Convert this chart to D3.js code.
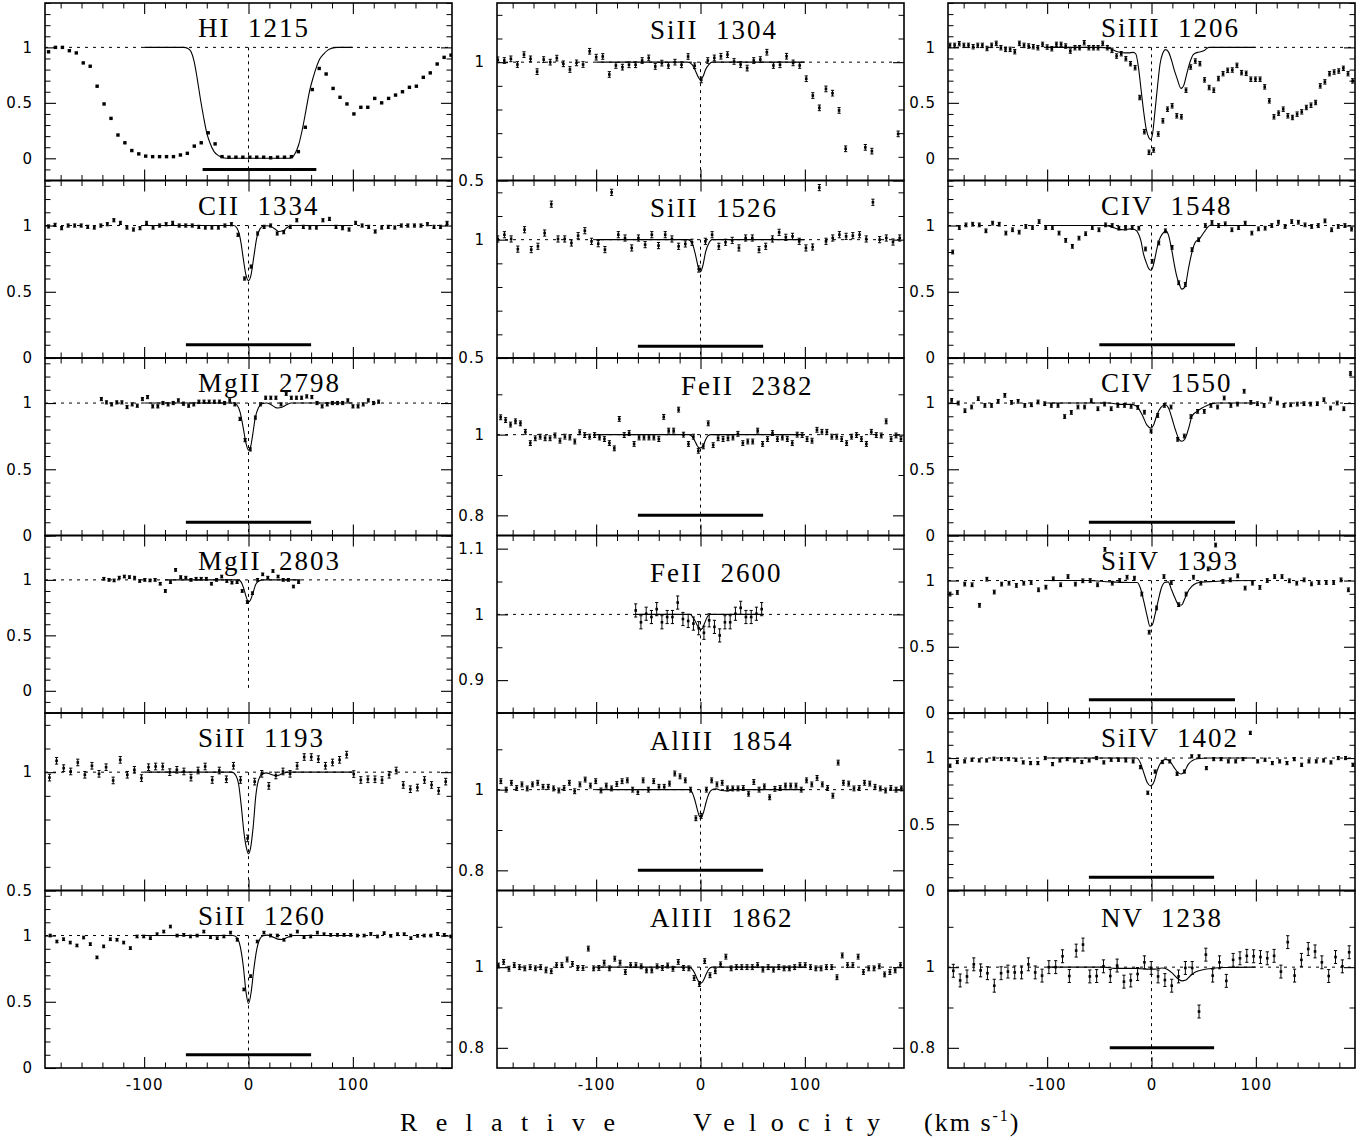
<!DOCTYPE html>
<html>
<head>
<meta charset="utf-8">
<script src="https://cdn.jsdelivr.net/npm/d3@7"></script>
<style>
  body { margin: 0; background: #fff; }
</style>
</head>
<body>
<script>
// panel order: left column top->bottom, then middle, then right
const titles = ["HI  1215", "CII  1334", "MgII  2798", "MgII  2803", "SiII  1193", "SiII  1260",
                "SiII  1304", "SiII  1526", "FeII  2382", "FeII  2600", "AlIII  1854", "AlIII  1862",
                "SiIII  1206", "CIV  1548", "CIV  1550", "SiIV  1393", "SiIV  1402", "NV  1238"];

const yDomains = [[-0.2, 1.4], [0, 1.34], [0, 1.34], [-0.2, 1.4], [0.5, 1.25], [0, 1.34],
                  [0.5, 1.25], [0.5, 1.25], [0.75, 1.19], [0.85, 1.12], [0.75, 1.19], [0.75, 1.19],
                  [-0.2, 1.4], [0, 1.34], [0, 1.34], [0, 1.34], [0, 1.34], [0.75, 1.19]];
const yMajor = [0.5, 0.5, 0.5, 0.5, 0.5, 0.5, 0.5, 0.5, 0.2, 0.1, 0.2, 0.2, 0.5, 0.5, 0.5, 0.5, 0.5, 0.2];
const yMinor = [0.1, 0.1, 0.1, 0.1, 0.1, 0.1, 0.1, 0.1, 0.1, 0.05, 0.1, 0.1, 0.1, 0.1, 0.1, 0.1, 0.1, 0.1];

// pixel grid of each spectrum (first velocity, step in km/s)
const velStart = [-191.6, -191.6, -141, -138.6, -190.7, -190, -194.3, -194.3, -191.5, -62.1, -191.3, -193.7,
                  -193.1, -190.5, -191.5, -193.1, -193.1, -189.9];
const velStep = [6.65, 6.26, 4.92, 4.91, 6.78, 6.4, 6.29, 6.42, 4.736, 5.03, 5.05, 5.07,
                 4.435, 6.37, 6.37, 7.07, 7.02, 6.54];
const errs = [0, 0.012, 0.012, 0.012, 0.014, 0.01, 0.012, 0.013, 0.006, 0.01, 0.006, 0.006,
              0.02, 0.014, 0.014, 0.014, 0.012, 0.016];

// integration ranges [vmin, vmax, level]
const bars = [[-44, 65, -0.1], [-60, 60, 0.1], [-60, 60, 0.1], null, null, [-60, 60, 0.1],
              null, [-60, 60, 0.55], [-60, 60, 0.8], null, [-60, 60, 0.8], null,
              null, [-50, 80, 0.1], [-60, 80, 0.1], [-60, 80, 0.1], [-60, 60, 0.1], [-40, 60, 0.8]];

// normalised flux
const flux_HI1215 = [0.96,1.0,1.0,0.97,0.95,0.86,0.83,0.65,0.49,0.36, 0.21,0.14,0.07,0.04,0.02,0.015,0.015,0.015,0.015,0.03,
  0.045,0.11,0.14,0.23,0.13,0.015,0.01,0.01,0.01,0.01, 0.01,0.01,0.005,0.01,0.01,0.015,0.06,0.28,0.62,0.81,
  0.76,0.63,0.55,0.49,0.40,0.46,0.46,0.54,0.50,0.54, 0.57,0.60,0.64,0.65,0.73,0.77,0.85,0.91,0.93];
const flux_CII1334 = [0.993,1.005,0.98,1.0,1.0,1.0,0.99,0.985,1.0,1.01, 1.04,1.02,0.985,0.97,0.98,1.02,0.985,1.0,1.01,1.02,
  1.0,1.0,1.0,0.99,0.985,0.985,0.985,1.0,1.01,0.93, 0.60,0.69,0.94,0.99,1.0,0.94,0.95,0.99,1.04,0.99,
  0.985,0.985,1.04,1.05,0.99,0.98,0.97,1.02,1.0,0.99, 0.955,0.985,0.99,0.985,1.0,1.0,1.0,1.0,1.01,0.99, 0.99,1.02];
const flux_MgII2798 = [1.03,1.005,0.99,1.005,1.005,0.97,0.99,0.98,1.03,1.045, 0.975,0.975,1.0,0.99,1.0,1.02,0.995,0.98,0.99,1.01,
  1.01,1.01,1.01,1.01,1.0,1.02,0.99,0.88,0.72,0.65, 0.89,0.99,1.04,1.04,1.04,0.99,1.07,1.04,1.04,1.04,
  1.05,1.045,1.0,0.975,0.99,1.0,1.0,1.0,1.02,0.975, 0.975,0.99,1.02,1.0,1.01];
const flux_MgII2803 = [1.01,1.0,0.995,1.02,1.03,1.025,1.02,0.99,1.0,0.995, 1.0,0.965,0.9,0.98,1.09,1.025,1.02,1.0,1.01,1.01,
  1.01,0.965,1.0,1.03,0.99,0.975,0.98,0.9,0.8,0.88, 1.0,1.05,1.02,1.08,1.03,1.0,1.0,0.94,0.98];
const flux_SiII1193 = [0.977,1.048,1.017,1.003,1.041,0.989,1.027,0.993,1.021,0.965, 1.052,0.989,1.01,0.975,1.021,1.024,1.024,1.0,1.01,1.003,
  0.977,1.007,1.024,0.967,1.007,0.97,1.027,0.967,0.72,0.96, 0.993,0.942,0.986,1.003,0.993,1.027,1.064,1.064,1.055,1.027,
  1.041,1.052,1.074,0.992,0.967,0.97,0.97,0.967,0.989,1.007, 0.946,0.928,0.935,0.967,0.946,0.921,0.96];
const flux_SiII1260 = [1.0,0.955,0.972,0.947,0.925,0.985,0.935,0.835,0.918,0.972, 0.968,0.947,0.905,0.993,0.993,0.98,1.01,1.03,1.068,1.0,
  1.005,0.993,1.0,1.03,0.988,0.98,0.993,1.022,0.968,0.593, 0.693,0.955,1.022,1.0,1.0,0.968,1.0,1.03,0.988,0.993,
  1.022,1.01,1.005,1.005,1.005,1.005,1.0,1.0,1.012,0.993, 1.018,0.998,1.01,1.01,0.98,0.998,1.0,1.0,1.012,1.005, 0.993];
const flux_SiII1304 = [1.01,1.007,1.014,0.99,1.032,1.014,0.96,1.011,1.0,1.017, 0.993,0.969,0.997,0.99,1.046,1.021,1.024,0.948,0.986,0.979,
  0.989,0.989,1.007,1.018,0.982,0.996,0.986,1.0,0.989,1.024, 0.985,0.925,1.007,1.018,1.025,1.032,1.003,0.99,0.975,1.007,
  1.011,1.042,0.986,0.989,1.025,0.997,0.986,0.93,0.859,0.807, 0.887,0.869,0.796,0.634,null,null,0.64,0.624,null,null, null,0.697];
const flux_SiII1526 = [1.003,1.021,1.003,0.96,1.042,0.958,0.972,1.028,1.15,1.003, 1.003,0.986,1.017,1.038,0.993,0.983,0.958,1.2,1.021,1.007,
  0.965,1.007,0.979,1.021,0.975,1.021,1.003,0.972,0.982,0.989, 0.876,0.993,1.021,0.972,0.989,0.997,0.965,1.007,1.007,0.958,
  0.972,1.003,1.031,1.01,1.014,0.993,0.965,0.969,1.22,0.993, 1.007,1.021,1.014,1.017,1.021,1.003,1.158,1.0,1.007,0.99, 1.007];
const flux_FeII2382 = [1.043,1.036,1.025,1.033,1.028,1.007,0.979,0.991,0.995,0.991, 0.991,0.998,0.985,0.995,0.993,0.983,1.006,0.999,0.995,0.999,
  0.993,0.989,0.979,0.966,1.039,0.999,1.004,0.977,0.993,0.993, 0.993,0.993,0.989,1.044,1.01,1.01,1.062,1.0,0.977,0.995,
  0.96,0.971,1.028,0.974,0.991,0.989,0.991,0.993,1.002,0.979, 0.983,0.983,1.01,0.977,0.989,1.004,0.989,0.993,0.989,0.979,
  1.0,0.999,0.989,0.985,1.012,1.007,1.007,0.995,0.995,0.989, 0.979,0.995,0.999,0.989,0.977,1.007,0.999,0.998,1.033,0.989, 0.998,0.989];
const flux_FeII2600 = [1.006,0.988,1.001,0.996,1.008,0.988,0.996,0.996,1.018,0.993, 0.99,0.986,0.979,0.972,0.991,0.981,0.968,0.988,0.988,1.001,
  1.01,0.996,0.996,1.001,1.008];
const flux_AlIII1854 = [1.021,1.0,1.017,1.004,1.013,1.003,1.013,1.017,1.007,1.007, 1.003,0.998,1.004,1.017,0.996,1.013,1.025,1.01,1.021,0.998,
  1.01,1.003,1.014,1.021,1.023,1.0,0.994,1.023,1.0,1.021, 1.007,1.007,1.015,1.04,1.033,1.023,1.0,0.929,0.935,1.0,
  1.023,1.013,1.017,1.003,1.003,1.003,1.004,0.99,1.019,1.0, 1.008,0.981,1.002,1.004,1.01,1.01,1.01,1.0,1.023,1.013,
  1.029,1.013,1.004,0.985,1.067,1.017,1.015,1.003,1.004,1.017, 1.015,1.007,1.003,0.998,1.004,1.0,1.003];
const flux_AlIII1862 = [1.004,1.013,0.996,1.005,1.0,0.997,1.0,0.997,1.0,0.992, 0.99,1.005,1.005,1.019,1.008,0.998,0.998,1.046,0.997,0.998,
  1.011,0.997,1.021,1.011,0.988,1.005,1.005,1.002,0.992,0.992, 1.002,0.998,1.004,0.996,1.013,0.998,0.997,0.973,0.958,1.015,
  0.98,0.99,1.007,1.026,0.997,1.0,1.0,1.0,1.0,1.005, 0.994,1.0,0.994,1.0,0.997,0.997,1.0,1.005,1.005,1.0,
  0.997,0.997,1.0,1.0,0.975,1.029,1.005,1.005,1.026,0.988, 0.997,0.997,1.002,0.982,0.988,0.992,1.005];
const flux_SiIII1206 = [1.018,1.018,1.033,1.018,1.018,1.006,1.018,1.018,0.99,1.018, 1.036,0.997,0.982,0.982,0.961,1.036,1.018,1.012,1.006,0.997,
  1.027,1.003,0.988,1.027,1.027,1.012,0.967,0.997,0.997,1.042, 0.997,0.997,0.997,1.036,0.997,0.973,0.922,0.943,0.898,0.853,
  0.817,0.548,0.24,0.054,0.075,0.219,0.338,0.443,0.473,0.383, 0.374,0.614,0.823,0.877,0.853,0.707,0.638,0.614,0.719,0.763,
  0.793,0.796,0.838,0.772,0.766,0.713,0.713,0.713,0.644,0.518, 0.374,0.407,0.443,0.383,0.368,0.398,0.419,0.458,0.479,0.503,
  0.653,0.689,0.763,0.778,0.787,0.811,0.763,0.698];
const flux_CIV1548 = [0.8,0.985,1.005,1.01,1.005,0.96,1.018,1.01,0.943,0.968, 0.95,0.993,0.985,1.03,0.985,0.985,0.943,0.888,0.843,0.905,
  0.938,0.985,0.968,1.005,1.0,0.98,0.98,0.985,0.98,0.823, 0.73,0.868,0.96,0.835,0.568,0.555,0.818,0.893,1.0,1.023,
  1.0,1.013,0.968,0.985,1.018,0.943,0.975,0.98,1.0,1.025, 0.993,1.03,1.025,1.005,0.993,1.0,1.035,0.968,0.993,1.0, 0.973];
const flux_CIV1550 = [1.02,1.0,0.942,0.97,1.033,0.982,0.982,1.013,1.058,1.005, 1.013,0.982,0.987,1.008,0.995,0.982,0.982,0.898,0.929,0.97,
  0.97,1.018,0.957,0.992,0.957,0.982,0.982,0.975,0.967,0.931, 0.789,0.906,0.982,0.97,0.726,0.751,0.898,0.937,0.937,0.982,
  0.97,1.038,0.982,0.992,1.089,1.005,0.995,0.982,1.03,1.0, 0.982,0.987,0.992,0.995,0.992,0.995,1.025,0.962,1.0,0.957, 1.223];
const flux_SiIV1393 = [0.898,0.91,0.973,0.968,0.813,1.01,0.913,0.973,0.98,0.963, 0.98,0.985,0.93,0.95,1.013,0.968,1.03,0.973,0.998,1.0,
  0.968,1.235,0.98,1.0,1.025,1.018,0.898,0.61,0.793,1.03, 0.985,0.818,0.898,1.025,0.98,1.088,1.268,0.993,1.005,1.035,
  0.943,0.98,0.948,1.0,1.03,1.03,0.998,0.98,1.005,0.975, 0.985,0.985,0.985,1.005,0.93];
const flux_SiIV1402 = [0.942,0.97,0.975,0.987,0.982,0.982,0.995,0.992,0.992,0.987, 0.967,0.962,0.962,1.0,0.954,0.982,0.992,0.982,0.97,0.982,
  1.0,0.967,0.987,0.987,0.982,0.975,0.931,0.738,0.898,0.97, 0.975,0.881,0.898,1.013,1.013,0.924,0.992,0.992,0.975,0.975,
  0.992,1.19,0.975,0.987,0.962,0.975,0.962,0.992,0.949,0.975, 0.975,0.982,0.967,1.0,1.0,0.949];
const flux_NV1238 = [0.991,0.967,0.977,1.007,0.992,0.985,0.954,0.985,0.989,0.987, 0.987,1.007,0.987,0.979,1.0,1.0,1.027,0.978,1.041,1.056,
  0.977,0.978,1.002,0.978,1.004,0.964,0.967,0.983,1.012,0.998, 0.977,0.968,0.954,0.977,0.998,0.998,0.89,1.031,0.979,1.012,
  0.966,1.018,1.022,1.028,1.027,1.025,1.022,1.028,0.989,1.062, 0.979,1.018,1.045,1.039,1.012,0.978,1.025,1.002,1.037];

// fitted profiles [velocity, flux]
const model_HI1215 = [[-100,1],[-62,1],[-58,0.99],[-55,0.96],[-52,0.87],[-49,0.71],[-46,0.53],[-43,0.37],[-40,0.23],[-37,0.14],
  [-33,0.06],[-28,0.02],[-23,0.003],[-20,0],[38,0],[42,0.01],[45,0.05],[48,0.12],[52,0.28],[55,0.43],[58.6,0.61],[62,0.73],
  [65,0.82],[68,0.89],[72,0.94],[76,0.975],[80,0.993],[85,1],[100,1]];
const model_CII1334 = [[-100,1],[-14,1],[-11,0.98],[-9,0.94],[-7,0.86],[-5,0.75],[-2.5,0.63],[0,0.585],[2.5,0.63],[5,0.76],
  [8,0.91],[11,0.975],[14,0.995],[18,0.998],[22,0.99],[26,0.97],[29,0.955],[33,0.96],[37,0.985],[42,1],[100,1]];
const model_MgII2798 = [[-100,1],[-14,1],[-11,0.985],[-8,0.93],[-5,0.81],[-2.5,0.7],[0,0.645],[2,0.67],[4,0.76],[6.5,0.89],
  [9.5,0.965],[13,0.995],[17,1],[21,0.99],[25,0.97],[28,0.962],[32,0.968],[36,0.985],[41,1],[100,1]];
const model_MgII2803 = [[-80,1],[-10,1],[-7,0.98],[-4.5,0.92],[-2,0.84],[0,0.8],[2,0.82],[4.5,0.89],[7,0.96],[10,0.99],[14,1],[50,1]];
const model_SiII1193 = [[-100,1],[-16,1],[-12,0.985],[-9.5,0.95],[-7,0.86],[-4.5,0.75],[-2,0.68],[0,0.655],[2,0.68],[4.5,0.77],
  [7,0.9],[9.5,0.965],[12.5,0.99],[17,0.997],[22,0.99],[27,0.985],[32,0.993],[38,1],[100,1]];
const model_SiII1260 = [[-100,1],[-15,1],[-11,0.985],[-8,0.92],[-5,0.77],[-2.5,0.58],[0,0.485],[2.5,0.57],[5,0.74],[8,0.9],
  [11,0.975],[14,0.998],[18,1.003],[23,0.99],[28,0.973],[32,0.97],[37,0.985],[43,1],[100,1]];
const model_SiII1304 = [[-100,1],[-12,1],[-8,0.99],[-5,0.965],[-2.5,0.94],[0,0.925],[2.5,0.94],[5,0.97],[8,0.99],[11,1],[100,1]];
const model_SiII1526 = [[-100,1],[-12,1],[-8,0.985],[-5,0.94],[-2.5,0.89],[0,0.865],[2.5,0.895],[5,0.95],[8,0.985],[11,1],[100,1]];
const model_FeII2382 = [[-100,1],[-11,1],[-8,0.995],[-5.5,0.985],[-3,0.972],[-1,0.967],[1,0.968],[3,0.975],[5,0.988],[7.5,0.998],[10,1],[100,1]];
const model_FeII2600 = [[-62,1],[-10,1],[-7,0.995],[-4.5,0.988],[-2,0.98],[0,0.977],[2,0.979],[4,0.987],[6.5,0.996],[9,1],[60,1]];
const model_AlIII1854 = [[-100,1],[-11,1],[-8,0.993],[-5.5,0.975],[-3,0.95],[-1,0.934],[1,0.932],[3,0.945],[5.5,0.97],[8,0.99],
  [11,1],[15,1.002],[20,0.998],[26,0.997],[32,1],[100,1]];
const model_AlIII1862 = [[-100,1],[-11,1],[-8,0.995],[-5.5,0.985],[-3,0.97],[-1,0.962],[1,0.961],[3,0.968],[5.5,0.983],[8,0.995],[11,1],[100,1]];
const model_SiIII1206 = [[-100,1],[-50,1],[-40,0.99],[-34,0.965],[-28,0.952],[-22,0.95],[-17.5,0.955],[-15,0.94],[-12.5,0.82],
  [-10,0.62],[-7.5,0.42],[-5,0.26],[-2.5,0.185],[-0.8,0.17],[1,0.22],[3.4,0.43],[6,0.67],[8.2,0.85],[10.5,0.94],[13.6,0.98],
  [16.5,0.955],[19.3,0.88],[22,0.79],[24.5,0.72],[28.3,0.63],[31,0.66],[34,0.77],[37,0.87],[40,0.935],[44,0.955],[48,0.962],
  [51,0.975],[55,1],[100,1]];
const model_CIV1548 = [[-100,1],[-45,1],[-38,0.99],[-32,0.973],[-26,0.968],[-20,0.975],[-16,0.97],[-12.6,0.94],[-10,0.88],[-7.8,0.79],
  [-5,0.72],[-3,0.68],[-0.8,0.662],[1,0.68],[2.4,0.72],[4.5,0.8],[6.5,0.87],[9,0.92],[11.3,0.945],[13.6,0.96],[16.2,0.93],
  [19.3,0.82],[22,0.7],[24.1,0.62],[26.5,0.56],[29,0.52],[32,0.535],[35.3,0.67],[38.5,0.79],[41.7,0.87],[46.5,0.905],
  [51.3,0.96],[56,1],[100,1]];
const model_CIV1550 = [[-100,1],[-40,1],[-30,0.99],[-20,0.99],[-15,0.98],[-12.5,0.96],[-8.3,0.9],[-4.5,0.835],[-0.5,0.812],[2,0.835],
  [5.2,0.91],[9,0.967],[13.2,0.987],[16.4,0.96],[19.6,0.885],[22.8,0.8],[27,0.72],[29.2,0.712],[32.4,0.735],[35.6,0.81],
  [38.8,0.9],[43.6,0.937],[48.4,0.962],[53.2,0.982],[58,0.995],[63,1],[100,1]];
const model_SiIV1393 = [[-100,1],[-60,1],[-40,0.99],[-20,0.985],[-13.7,0.985],[-10.5,0.94],[-7.3,0.84],[-4.1,0.73],[-1.5,0.655],
  [0.7,0.665],[3.3,0.74],[6.2,0.84],[9.3,0.94],[12.5,0.985],[16,0.99],[19.2,0.93],[22.4,0.87],[26.3,0.815],[28.8,0.815],
  [32,0.865],[35.9,0.93],[40.7,0.97],[47,0.987],[60,0.993],[73,0.998],[100,1]];
const model_SiIV1402 = [[-100,1],[-14,1],[-10.5,0.96],[-7.3,0.886],[-4.1,0.815],[-0.8,0.79],[2.4,0.82],[5.6,0.91],[9.4,0.97],
  [13.6,0.99],[17.7,0.975],[21.6,0.93],[25.4,0.89],[28.6,0.88],[31.8,0.9],[35,0.95],[39,0.98],[43.8,0.995],[55,1],[100,1]];
const model_NV1238 = [[-100,1],[-45,1],[-35,0.997],[-15,0.997],[-5,0.995],[3,0.995],[10,0.998],[15,0.995],[20,0.985],[25,0.972],
  [29,0.966],[33,0.968],[37,0.978],[42,0.988],[50,0.994],[58,0.997],[70,0.999],[100,1]];

const fluxes = [flux_HI1215, flux_CII1334, flux_MgII2798, flux_MgII2803, flux_SiII1193, flux_SiII1260,
                flux_SiII1304, flux_SiII1526, flux_FeII2382, flux_FeII2600, flux_AlIII1854, flux_AlIII1862,
                flux_SiIII1206, flux_CIV1548, flux_CIV1550, flux_SiIV1393, flux_SiIV1402, flux_NV1238];
const models = [model_HI1215, model_CII1334, model_MgII2798, model_MgII2803, model_SiII1193, model_SiII1260,
                model_SiII1304, model_SiII1526, model_FeII2382, model_FeII2600, model_AlIII1854, model_AlIII1862,
                model_SiIII1206, model_CIV1548, model_CIV1550, model_SiIV1393, model_SiIV1402, model_NV1238];

const xTicksMajor = [-100, 0, 100];
const xTicksMinor = [-180, -160, -140, -120, -80, -60, -40, -20, 20, 40, 60, 80, 120, 140, 160, 180];

// layout
const width = 1369, height = 1140;
const colLeft = [45, 497, 948];
const pw = 407, ph = 177.5, top0 = 3;
const labelFont = "'DejaVu Sans', sans-serif";
const serifFont = "'Liberation Serif', 'Times New Roman', serif";
// a few titles sit off the common position
const titleNudge = { 8: [31, 3], 9: [0, 12], 10: [0, 3], 6: [0, 2], 7: [0, 2], 11: [0, 2], 17: [0, 2] };

const svg = d3.select('body').append('svg')
  .attr('width', width).attr('height', height)
  .style('background', '#fff');

const defs = svg.append('defs');
const x = d3.scaleLinear().domain([-195, 195]).range([0, pw]);

function stepTicks(lo, hi, step) {
  const out = [];
  for (let k = Math.ceil(lo / step - 1e-6); k <= Math.floor(hi / step + 1e-6); k++) out.push(+(k * step).toFixed(4));
  return out;
}

function styleAxis(sel, w) {
  sel.select('.domain').remove();
  sel.selectAll('.tick line').attr('stroke', '#000').attr('stroke-width', w);
  sel.selectAll('text').attr('fill', '#000');
}

titles.forEach((title, i) => {
  const col = Math.floor(i / 6), row = i % 6;
  const g = svg.append('g').attr('transform', `translate(${colLeft[col]},${top0 + row * ph})`);
  const y = d3.scaleLinear().domain(yDomains[i]).range([ph, 0]);
  const [lo, hi] = yDomains[i];

  defs.append('clipPath').attr('id', 'clip' + i)
    .append('rect').attr('width', pw).attr('height', ph);
  const plot = g.append('g').attr('clip-path', `url(#clip${i})`);

  // continuum and zero velocity
  plot.append('line')
    .attr('x1', 0).attr('x2', pw).attr('y1', y(1)).attr('y2', y(1))
    .attr('stroke', '#000').attr('stroke-width', 1).attr('stroke-dasharray', '3,5');
  const bar = bars[i];
  const zLow = Math.max(lo, Math.min(0, bar ? bar[2] : 0));
  plot.append('line')
    .attr('x1', x(0)).attr('x2', x(0)).attr('y1', y(1)).attr('y2', y(zLow))
    .attr('stroke', '#000').attr('stroke-width', 1).attr('stroke-dasharray', '3,4');

  // fitted profile
  const line = d3.line().x(d => x(d[0])).y(d => y(d[1])).curve(d3.curveMonotoneX);
  plot.append('path').datum(models[i])
    .attr('d', line).attr('fill', 'none').attr('stroke', '#000').attr('stroke-width', 1.1);

  // data points with errors
  const pts = fluxes[i].map((f, k) => ({ v: velStart[i] + k * velStep[i], f: f })).filter(d => d.f !== null);
  const e = errs[i];
  const pg = plot.append('g').selectAll('g').data(pts).enter().append('g');
  if (e > 0) {
    pg.append('line')
      .attr('x1', d => x(d.v)).attr('x2', d => x(d.v))
      .attr('y1', d => y(d.f - e)).attr('y2', d => y(d.f + e))
      .attr('stroke', '#000').attr('stroke-width', 1);
    [-1, 1].forEach(s => {
      pg.append('line')
        .attr('x1', d => x(d.v) - 1.6).attr('x2', d => x(d.v) + 1.6)
        .attr('y1', d => y(d.f + s * e)).attr('y2', d => y(d.f + s * e))
        .attr('stroke', '#000').attr('stroke-width', 1);
    });
  }
  const ms = e > 0 ? 2.6 : 3.4;
  pg.append('rect')
    .attr('x', d => x(d.v) - ms / 2).attr('y', d => y(d.f) - ms / 2)
    .attr('width', ms).attr('height', ms).attr('fill', '#000');

  // integration range
  if (bar) {
    plot.append('line')
      .attr('x1', x(bar[0])).attr('x2', x(bar[1])).attr('y1', y(bar[2])).attr('y2', y(bar[2]))
      .attr('stroke', '#000').attr('stroke-width', 3);
  }

  // axes: major and minor ticks on all four sides, pointing inward
  const yMaj = stepTicks(lo, hi, yMajor[i]);
  const yMin = stepTicks(lo, hi, yMinor[i]).filter(t => !yMaj.some(m => Math.abs(m - t) < 1e-6));

  const yl = g.append('g').call(d3.axisLeft(y).tickValues(yMaj).tickSize(-11).tickPadding(12).tickFormat(d3.format('~g')));
  styleAxis(yl, 1.1);
  yl.selectAll('text').attr('font-family', labelFont).attr('font-size', 15).attr('letter-spacing', 1);
  styleAxis(g.append('g').call(d3.axisLeft(y).tickValues(yMin).tickSize(-5.5).tickFormat('')), 1);
  styleAxis(g.append('g').attr('transform', `translate(${pw},0)`)
    .call(d3.axisRight(y).tickValues(yMaj).tickSize(-11).tickFormat('')), 1.1);
  styleAxis(g.append('g').attr('transform', `translate(${pw},0)`)
    .call(d3.axisRight(y).tickValues(yMin).tickSize(-5.5).tickFormat('')), 1);

  styleAxis(g.append('g').call(d3.axisTop(x).tickValues(xTicksMajor).tickSize(-11).tickFormat('')), 1.1);
  styleAxis(g.append('g').call(d3.axisTop(x).tickValues(xTicksMinor).tickSize(-5.5).tickFormat('')), 1);
  const xb = g.append('g').attr('transform', `translate(0,${ph})`)
    .call(d3.axisBottom(x).tickValues(xTicksMajor).tickSize(-11).tickPadding(11)
      .tickFormat(row === 5 ? (d => String(d)) : ''));
  styleAxis(xb, 1.1);
  xb.selectAll('text').attr('font-family', labelFont).attr('font-size', 15).attr('letter-spacing', 1);
  styleAxis(g.append('g').attr('transform', `translate(0,${ph})`)
    .call(d3.axisBottom(x).tickValues(xTicksMinor).tickSize(-5.5).tickFormat('')), 1);

  // frame
  g.append('rect').attr('width', pw).attr('height', ph)
    .attr('fill', 'none').attr('stroke', '#000').attr('stroke-width', 1.6);

  // line label
  const nudge = titleNudge[i] || [0, 0];
  g.append('text')
    .attr('x', 153 + nudge[0]).attr('y', 34 + nudge[1])
    .attr('font-family', serifFont).attr('font-size', 27).attr('letter-spacing', 2)
    .style('white-space', 'pre').attr('fill', '#000')
    .text(title);
});

// x axis title
const xt = svg.append('g').attr('font-family', serifFont).attr('font-size', 26).attr('fill', '#000');
xt.append('text').attr('x', 400).attr('y', 1131).attr('textLength', 215).attr('lengthAdjust', 'spacing').text('Relative');
xt.append('text').attr('x', 693).attr('y', 1131).attr('textLength', 187).attr('lengthAdjust', 'spacing').text('Velocity');
const unit = xt.append('text').attr('x', 924).attr('y', 1131).attr('letter-spacing', 2);
unit.append('tspan').text('(km s');
unit.append('tspan').attr('dy', -10).attr('font-size', 16).text('-1');
unit.append('tspan').attr('dy', 10).text(')');
</script>
</body>
</html>
